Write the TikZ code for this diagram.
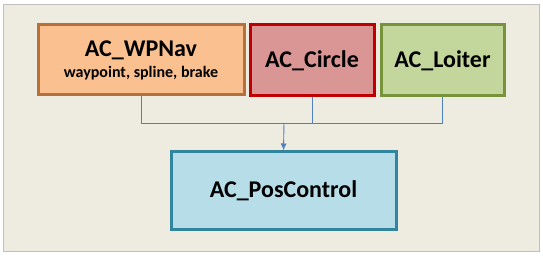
\documentclass[tikz,border=0pt]{standalone}
\usepackage{fontspec}
\setmainfont{Carlito}
\usetikzlibrary{arrows.meta,positioning}

\definecolor{panelbg}{HTML}{EEECE1}
\definecolor{panelrule}{HTML}{BFBFBF}
\definecolor{wpfill}{HTML}{FAC090}
\definecolor{wpdraw}{HTML}{B7703A}
\definecolor{cifill}{HTML}{D99694}
\definecolor{cidraw}{HTML}{C00000}
\definecolor{lofill}{HTML}{C3D69B}
\definecolor{lodraw}{HTML}{77933C}
\definecolor{pcfill}{HTML}{B7DEE8}
\definecolor{pcdraw}{HTML}{31859C}
\definecolor{wire}{HTML}{4F81BD}

\begin{document}
\begin{tikzpicture}[
  x=1pt, y=-1pt,
  font=\bfseries\fontsize{24}{26}\selectfont,
  box/.style={draw, line width=3pt, align=center, inner sep=2pt},
  arrow/.style={-{Latex[length=7pt,width=6pt]}, draw=wire, line width=0.9pt},
  wire/.style={draw=wire, line width=0.9pt}
]
\useasboundingbox (0,0) rectangle (543,256);
\path[fill=panelbg, draw=panelrule, line width=1pt] (3.5,4.5) rectangle (539.5,251.5);

\node[box, fill=wpfill, draw=wpdraw, minimum width=206, minimum height=70] (wpnav) at (141,60)
  {AC\_WPNav\\[-5pt]{\fontsize{16}{17}\selectfont waypoint, spline, brake}};
\node[box, fill=cifill, draw=cidraw, minimum width=124, minimum height=71] (circle) at (312,60.5)
  {AC\_Circle};
\node[box, fill=lofill, draw=lodraw, minimum width=123, minimum height=71] (loiter) at (442.5,60.5)
  {AC\_Loiter};
\node[box, fill=pcfill, draw=pcdraw, minimum width=225, minimum height=78] (pos) at (283.5,191)
  {AC\_PosControl};

\coordinate (join) at (284,123);

\draw[wire] (wpnav.south) |- (join);
\draw[wire] (loiter.south) |- (join);
\draw[wire] (circle.south) -- (circle.south |- join);
\draw[arrow] (join) -- (pos.north);
\end{tikzpicture}
\end{document}
